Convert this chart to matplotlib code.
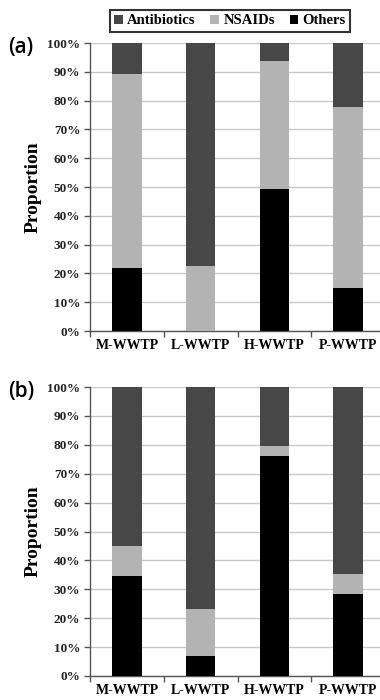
import numpy as np
import matplotlib
matplotlib.use("Agg")
import matplotlib.pyplot as plt
from matplotlib.ticker import FixedLocator, PercentFormatter
from matplotlib.font_manager import FontProperties

sites = ["M-WWTP", "L-WWTP", "H-WWTP", "P-WWTP"]
groups = ["Antibiotics", "NSAIDs", "Others"]

# proportions (%)
others_a = [22.0, 0.0, 49.2, 14.8]
nsaids_a = [67.1, 22.6, 44.6, 63.1]
antib_a = [10.9, 77.4, 6.2, 22.1]

others_b = [34.7, 6.9, 76.2, 28.4]
nsaids_b = [10.4, 16.2, 3.4, 6.9]
antib_b = [54.9, 76.9, 20.4, 64.7]

colors = {"Antibiotics": "#474747", "NSAIDs": "#b3b3b3", "Others": "#000000"}
serif = "Liberation Serif"

W, H = 380, 700
fig = plt.figure(figsize=(W / 100, H / 100), dpi=100)


def panel(top_px, bot_px, antib, nsaids, others, tag):
    ax = fig.add_axes([90 / W, 1 - bot_px / H, (385 - 90) / W, (bot_px - top_px) / H])
    x = np.arange(len(sites))
    bw = 0.4
    ax.bar(x, others, bw, color=colors["Others"], label="Others", zorder=3)
    ax.bar(x, nsaids, bw, bottom=others, color=colors["NSAIDs"], label="NSAIDs", zorder=3)
    bottom2 = np.array(others) + np.array(nsaids)
    ax.bar(x, antib, bw, bottom=bottom2, color=colors["Antibiotics"], label="Antibiotics", zorder=3)
    ax.set_xlim(-0.5, 3.5)
    ax.set_ylim(0, 100)
    ax.set_yticks(np.arange(0, 101, 10))
    ax.yaxis.set_major_formatter(PercentFormatter(decimals=0))
    ax.yaxis.grid(True, color="#c8c8c8", linewidth=1.0, zorder=0)
    ax.xaxis.set_major_locator(FixedLocator([-0.5, 0.5, 1.5, 2.5, 3.5]))
    ax.xaxis.set_minor_locator(FixedLocator(x))
    ax.set_xticklabels([], minor=False)
    ax.set_xticklabels(sites, minor=True, fontfamily=serif, fontweight="bold", fontsize=10)
    ax.tick_params(axis="x", which="minor", length=0, pad=6)
    ax.tick_params(axis="x", which="major", length=4, width=1, color="#555555")
    ax.tick_params(axis="y", length=4, width=1, color="#555555", pad=3)
    for lab in ax.get_yticklabels():
        lab.set_fontfamily(serif)
        lab.set_fontweight("bold")
        lab.set_fontsize(9.5)
        lab.set_color("#222222")
    for s in ["top", "right"]:
        ax.spines[s].set_visible(False)
    for s in ["left", "bottom"]:
        ax.spines[s].set_color("#555555")
        ax.spines[s].set_linewidth(1.0)
    ax.set_ylabel("Proportion", fontfamily=serif, fontweight="bold", fontsize=14, labelpad=4)
    fig.text(8 / W, 1 - (top_px + 4) / H, tag, fontsize=15, fontweight="semibold",
             fontfamily="Open Sans", ha="left", va="center")
    return ax


ax_a = panel(43, 331, antib_a, nsaids_a, others_a, "(a)")
ax_b = panel(387, 676, antib_b, nsaids_b, others_b, "(b)")

handles, labels = ax_a.get_legend_handles_labels()
order = [labels.index(g) for g in groups]
leg = fig.legend([handles[i] for i in order], [labels[i] for i in order],
                 loc="center", bbox_to_anchor=(230 / W, 1 - 21 / H), ncol=3,
                 prop=FontProperties(family=serif, weight="bold", size=10.5),
                 frameon=True, fancybox=False, edgecolor="black",
                 handlelength=0.6, handleheight=0.6, handletextpad=0.3,
                 columnspacing=1.0, borderpad=0.3)
leg.get_frame().set_linewidth(1.5)

fig.savefig("out.png", dpi=100)
